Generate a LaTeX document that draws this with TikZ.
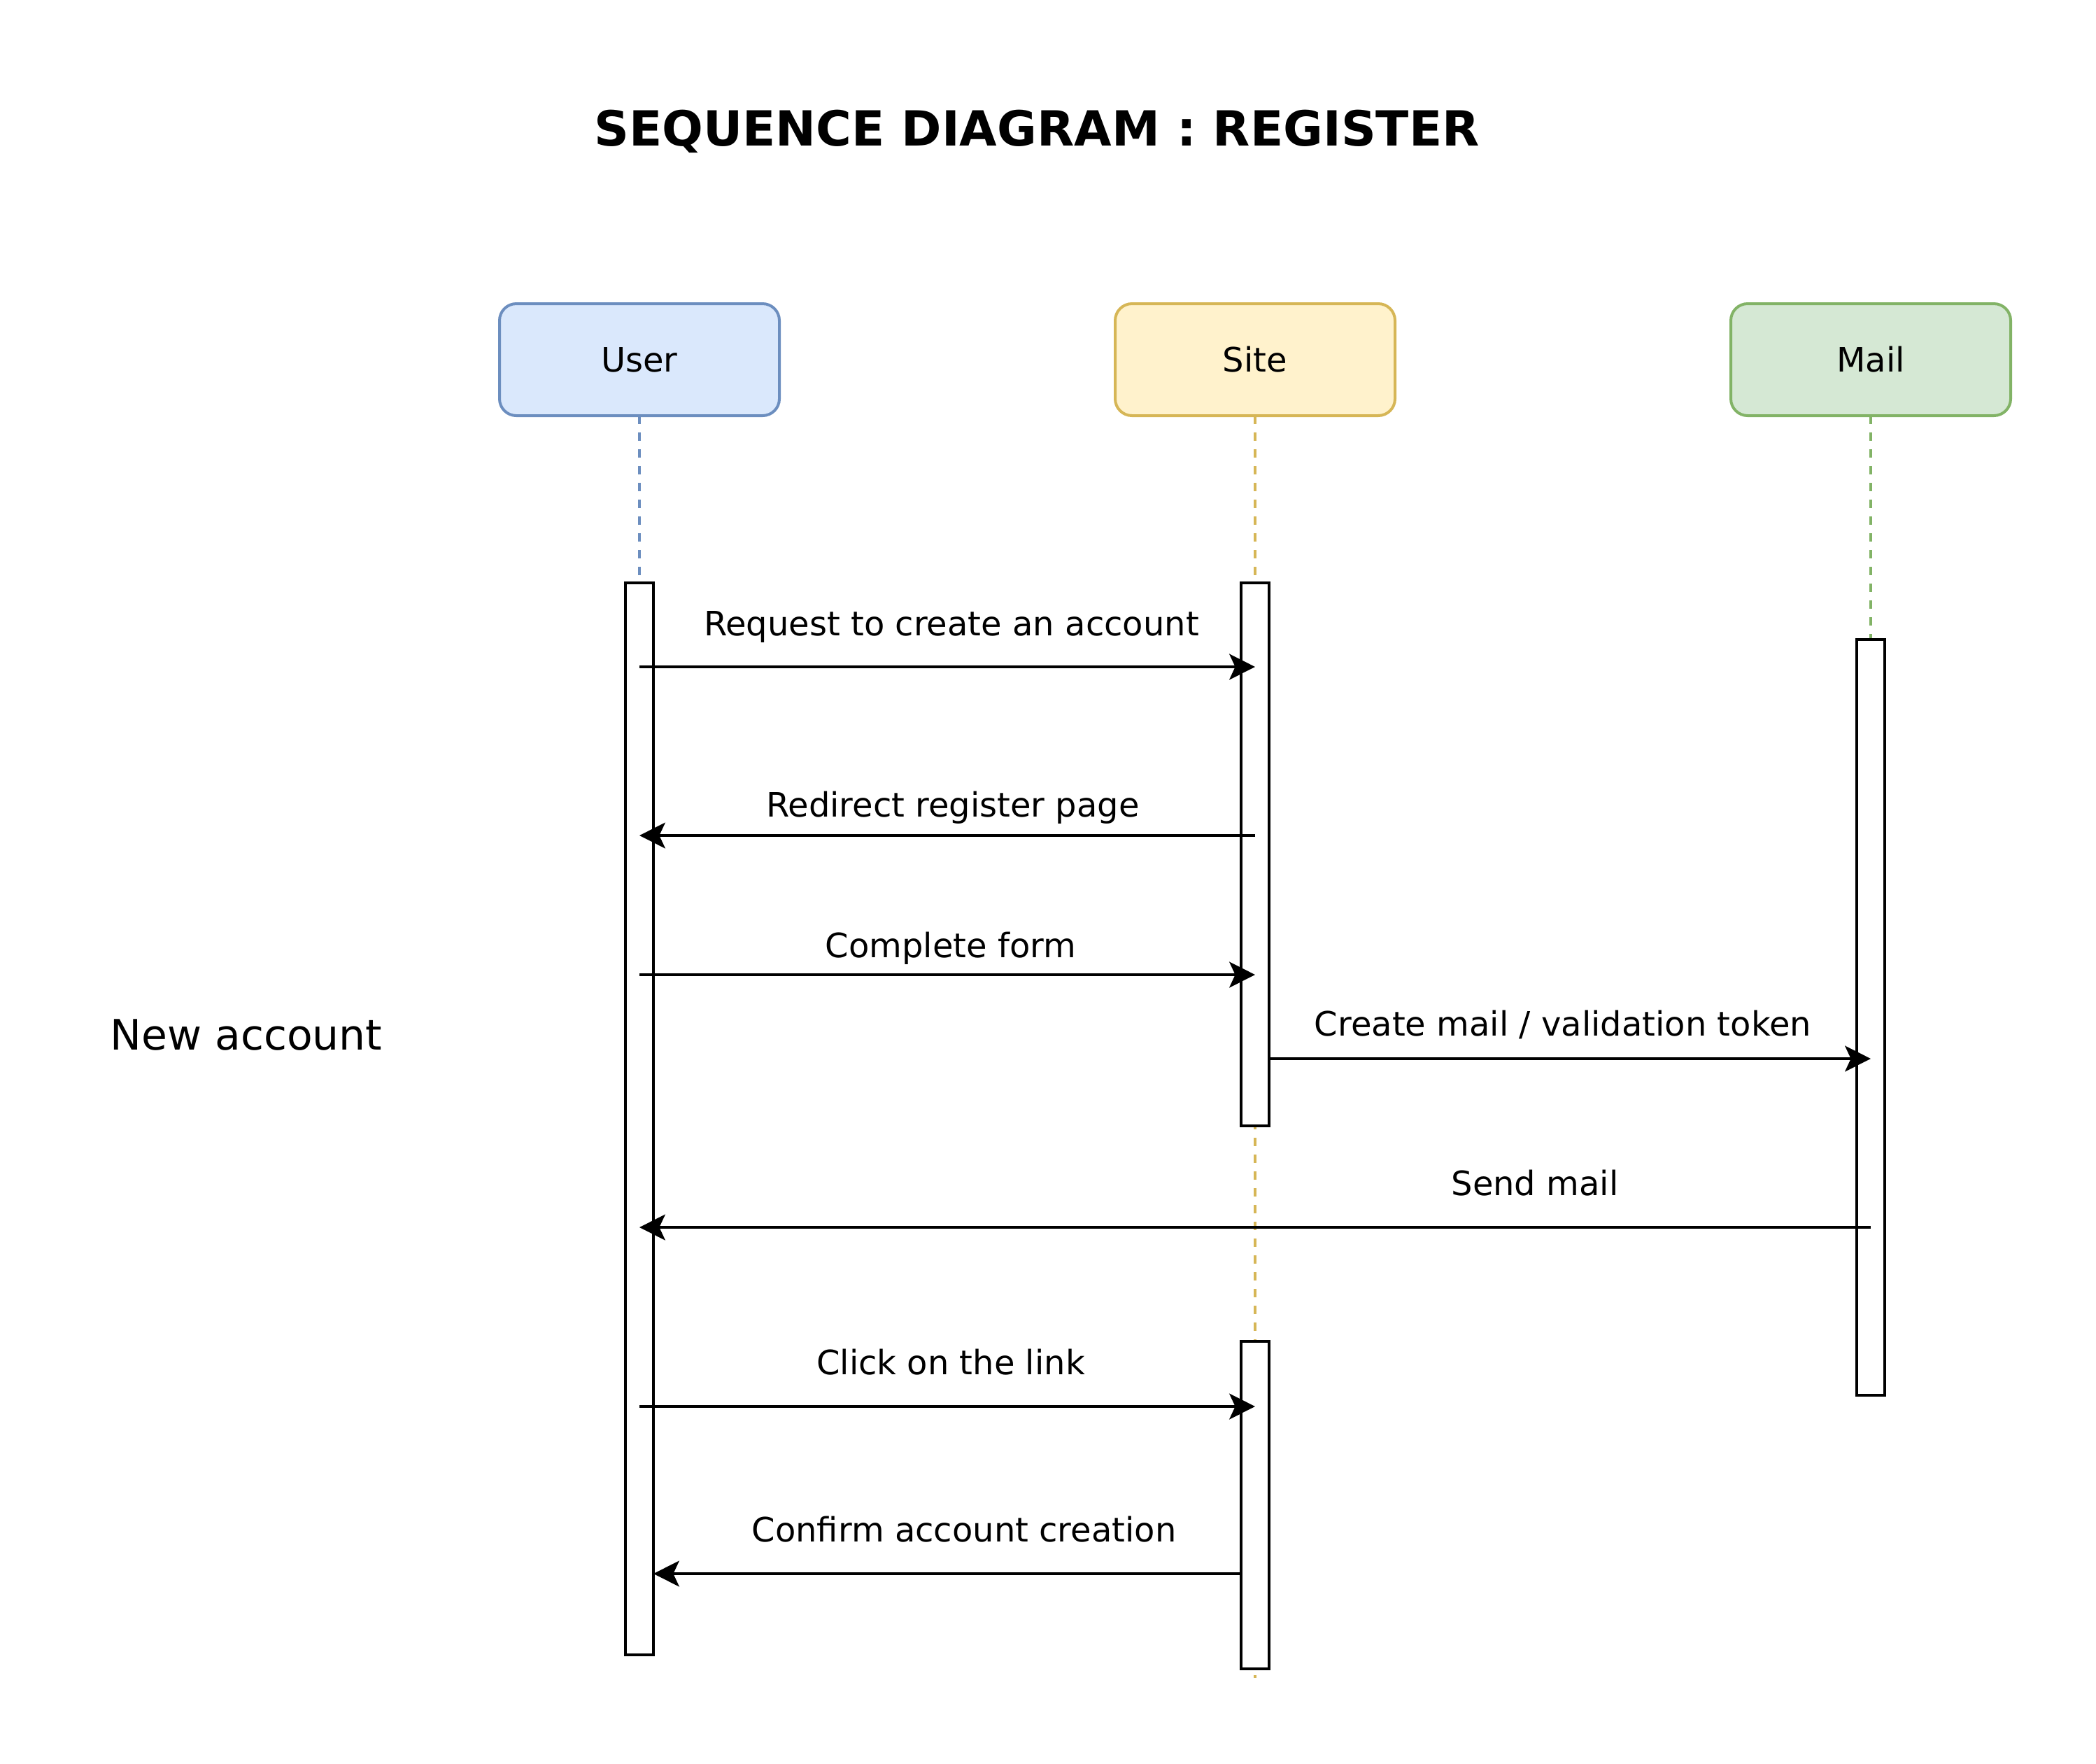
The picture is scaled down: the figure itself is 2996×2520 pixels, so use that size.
\documentclass[tikz,border=0pt]{standalone}
\usepackage{fontspec}
\setmainfont{DejaVu Sans}
\usetikzlibrary{arrows.meta}
\definecolor{ufill}{HTML}{DAE8FC}
\definecolor{uline}{HTML}{6C8EBF}
\definecolor{sfill}{HTML}{FFF2CC}
\definecolor{sline}{HTML}{D6B656}
\definecolor{mfill}{HTML}{D5E8D4}
\definecolor{mline}{HTML}{82B366}
\begin{document}
\begin{tikzpicture}[x=0.25pt,y=-0.25pt,
  actor/.style={draw, rounded corners=6pt, minimum width=100pt, minimum height=40pt,
    inner sep=0pt, outer sep=0pt, line width=1pt, font=\fontsize{12}{14}\selectfont},
  actbar/.style={draw, fill=white, minimum width=10pt, inner sep=0pt, outer sep=0pt, line width=1pt},
  lifeline/.style={line width=1pt, dash pattern=on 3pt off 3pt},
  msg/.style={line width=1pt, -{Stealth[length=9.2pt 0 0, width=9.2pt 0, inset=2.1pt 0]}},
  lbl/.style={anchor=base, inner sep=0pt, font=\fontsize{12}{14}\selectfont}]
\useasboundingbox (0,0) rectangle (2996,2520);

% title
\node[anchor=base, inner sep=0pt, font=\fontsize{17.3}{20}\selectfont\bfseries] (title) at (1482,208) {SEQUENCE DIAGRAM : REGISTER};
\node[anchor=base, inner sep=0pt, font=\fontsize{15}{18}\selectfont] (frag) at (352,1500) {New account};

% actors
\node[actor, fill=ufill, draw=uline] (user) at (914,514) {User};
\node[actor, fill=sfill, draw=sline] (site) at (1794,514) {Site};
\node[actor, fill=mfill, draw=mline] (mail) at (2674,514) {Mail};

% lifeline ends
\coordinate (uend) at (914,2360);
\coordinate (send) at (1794,2398);
\coordinate (mend) at (2674,1990);
\draw[lifeline, uline] (user.south) -- (uend);
\draw[lifeline, sline] (site.south) -- (send);
\draw[lifeline, mline] (mail.south) -- (mend);

% activation bars
\node[actbar, minimum height=383pt] (ubar) at (914,1599) {};
\node[actbar, minimum height=194pt] (sbar1) at (1794,1221) {};
\node[actbar, minimum height=117pt] (sbar2) at (1794,2151) {};
\node[actbar, minimum height=270pt] (mbar) at (2674,1453.5) {};

% message levels
\coordinate (y1) at (0,953);
\coordinate (y2) at (0,1194);
\coordinate (y3) at (0,1393);
\coordinate (y4) at (0,1513);
\coordinate (y5) at (0,1754);
\coordinate (y6) at (0,2010);
\coordinate (y7) at (0,2249);

\draw[msg] (ubar.center |- y1) -- (sbar1.center |- y1);
\draw[msg] (sbar1.center |- y2) -- (ubar.center |- y2);
\draw[msg] (ubar.center |- y3) -- (sbar1.center |- y3);
\draw[msg] (sbar1.east |- y4) -- (mbar.center |- y4);
\draw[msg] (mbar.center |- y5) -- (ubar.center |- y5);
\draw[msg] (ubar.center |- y6) -- (sbar2.center |- y6);
\draw[msg] (sbar2.west |- y7) -- (ubar.east |- y7);

% message labels
\node[lbl] (l1) at (1360,908) {Request to create an account};
\node[lbl] (l2) at (1362,1167) {Redirect register page};
\node[lbl] (l3) at (1359,1368) {Complete form};
\node[lbl] (l4) at (2234,1480) {Create mail / validation token};
\node[lbl] (l5) at (2194,1708) {Send mail};
\node[lbl] (l6) at (1359,1964) {Click on the link};
\node[lbl] (l7) at (1378,2203) {Confirm account creation};
\end{tikzpicture}
\end{document}
